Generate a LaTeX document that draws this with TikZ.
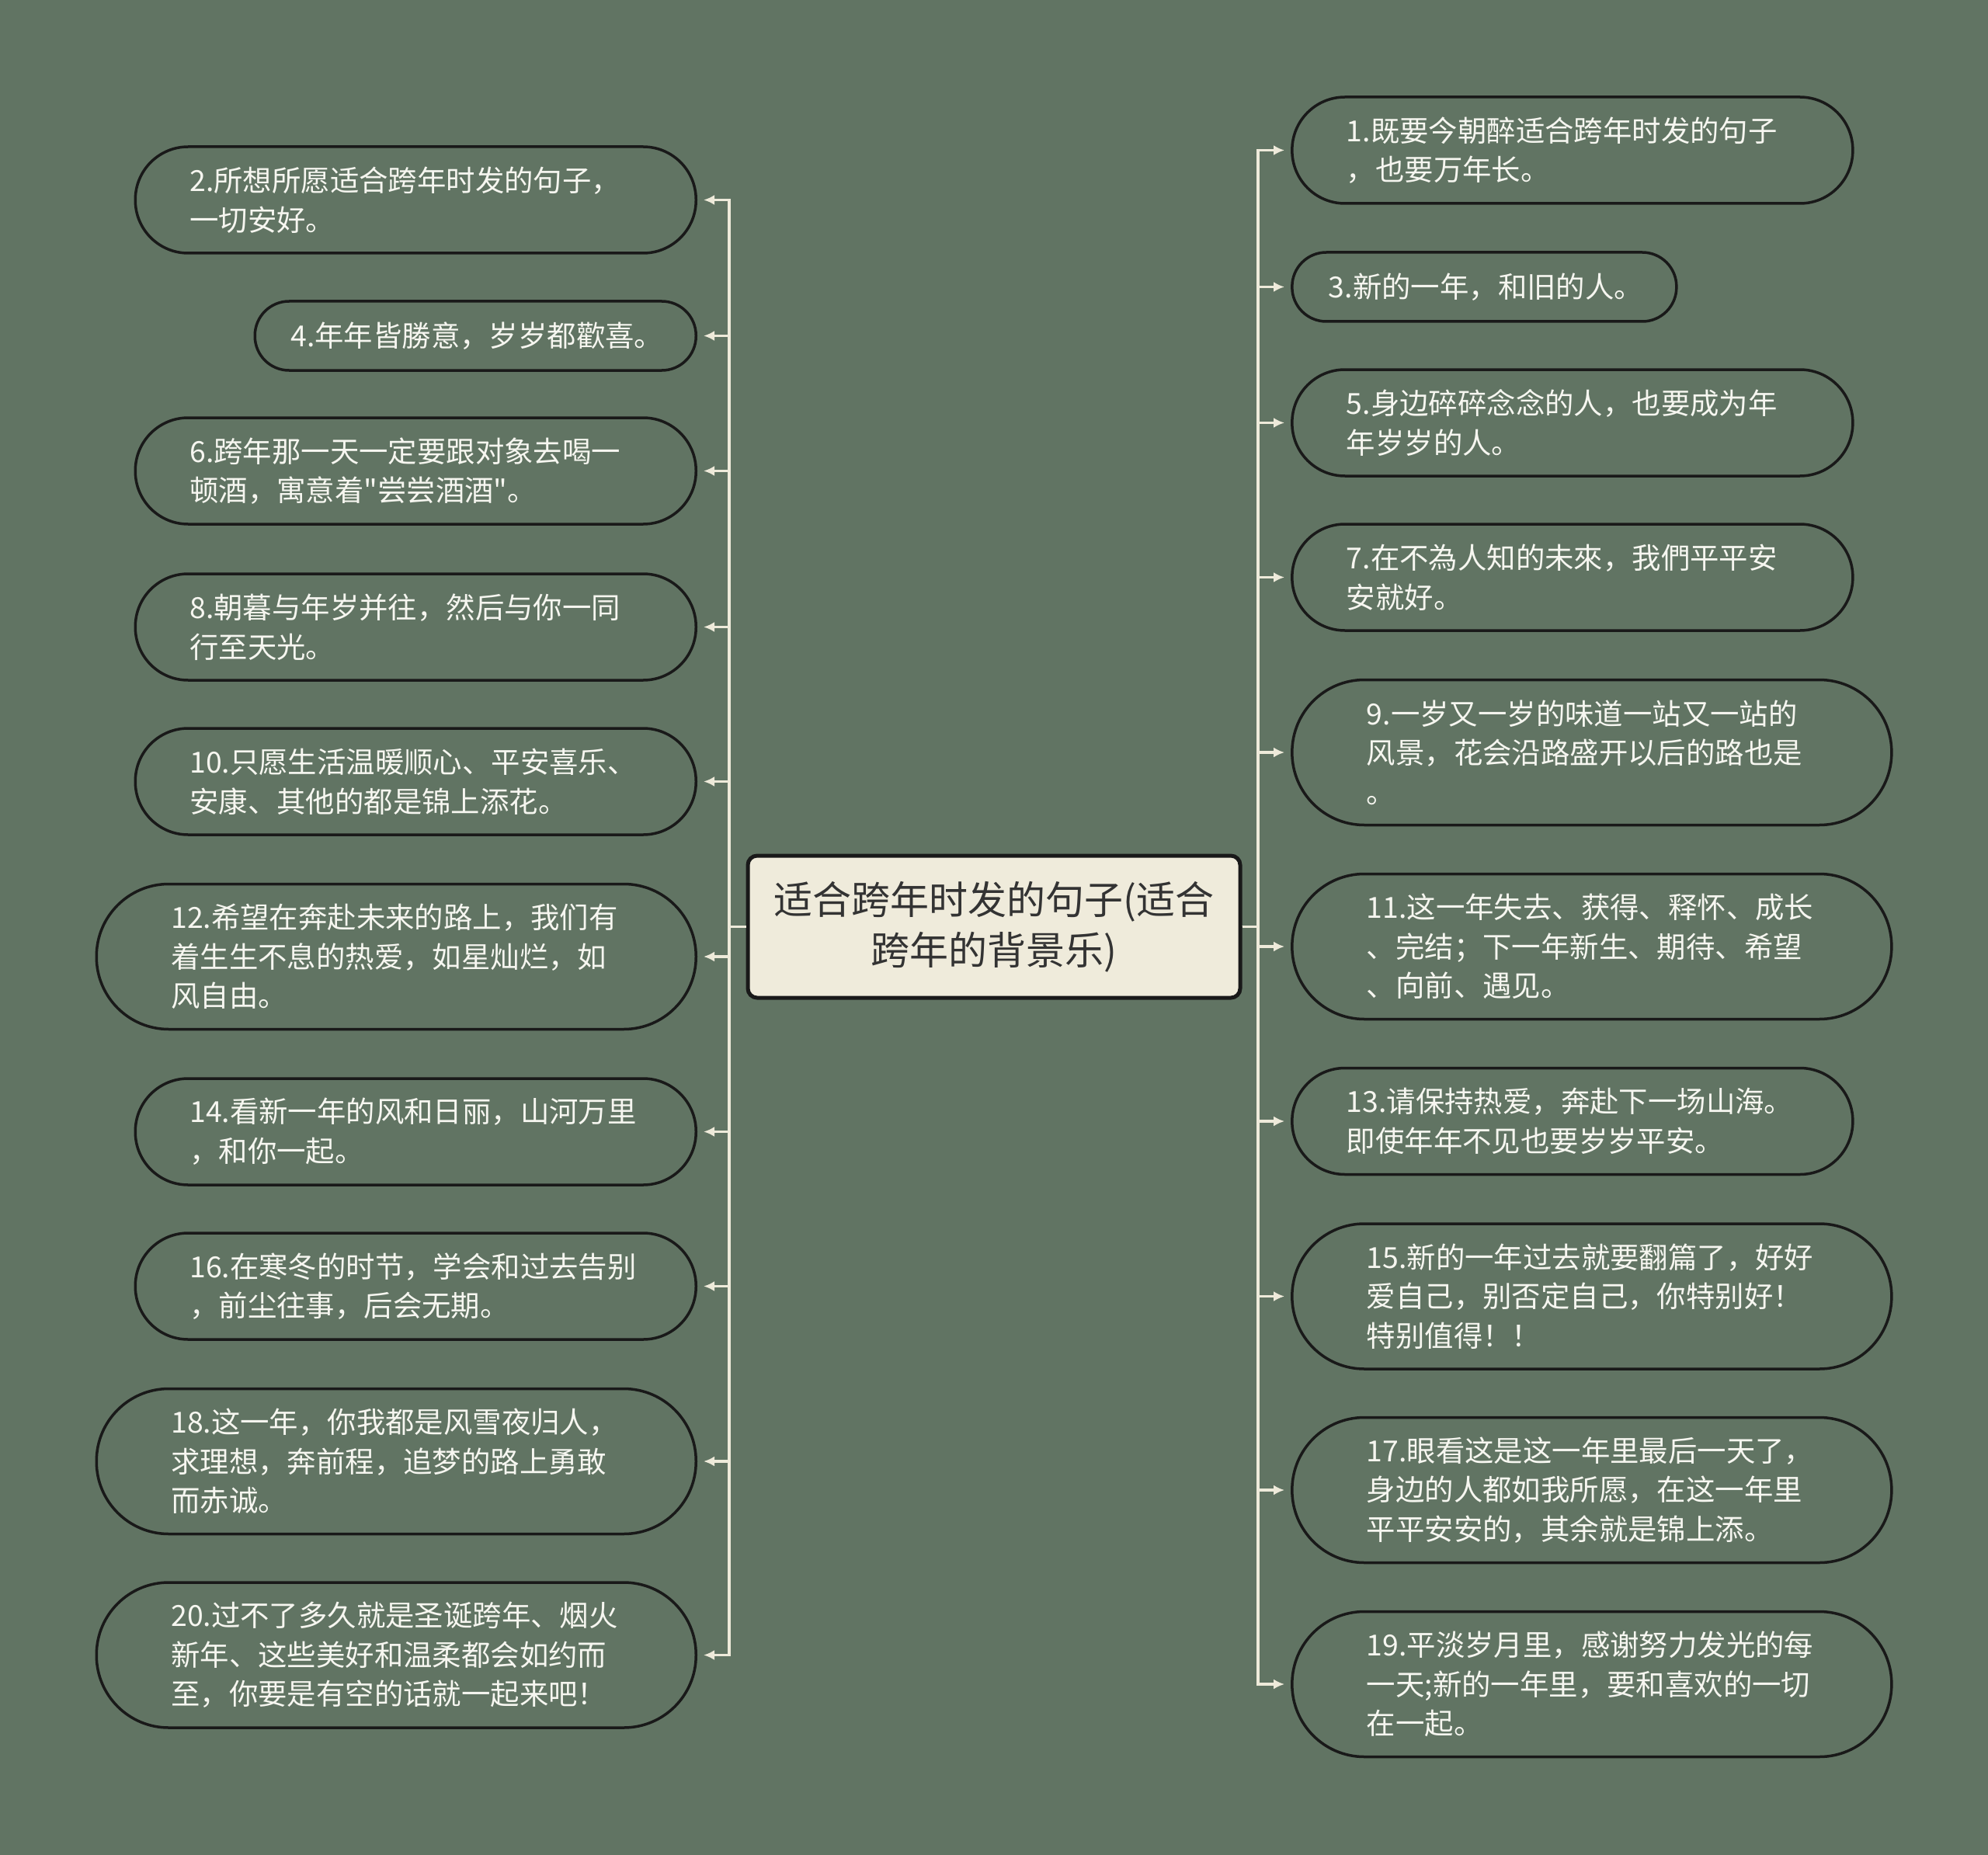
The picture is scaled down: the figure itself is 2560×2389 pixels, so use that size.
\documentclass[tikz,border=0pt]{standalone}
\usepackage{fontspec}
\newfontfamily\cjk{Noto Sans CJK SC}
\usetikzlibrary{arrows.meta}
\definecolor{bgcol}{RGB}{97,116,99}
\definecolor{linecol}{RGB}{238,234,218}
\definecolor{rootfill}{RGB}{239,235,219}
\definecolor{leaftext}{RGB}{246,246,240}
\definecolor{roottext}{RGB}{51,51,51}
\tikzset{
  leaf/.style={draw=black!90, line width=3.5pt, text=leaftext, align=left,
    font=\cjk\fontsize{37.4}{50.6}\selectfont, inner ysep=0pt},
  twoline/.style={minimum height=137pt, rounded corners=68pt},
  threeline/.style={minimum height=187pt, rounded corners=93pt},
  oneline/.style={minimum height=89pt, rounded corners=44pt},
  stdw/.style={text width=582pt, inner xsep=70pt},
  widew/.style={text width=580pt, inner xsep=96pt},
  conn/.style={draw=linecol, line width=3.2pt, -{Latex[length=14pt,width=13pt]}},
  rootbox/.style={draw=black!90, line width=5pt, fill=rootfill, text=roottext,
    align=center, rounded corners=12pt, minimum width=634pt, minimum height=183pt,
    font=\cjk\fontsize{50}{65}\selectfont}
}
\begin{document}
\begin{tikzpicture}[x=1pt,y=-1pt]
\fill[bgcol] (0,0) rectangle (2560,2389);
\useasboundingbox (0,0) rectangle (2560,2389);

\node[rootbox] (root) at (1280,1193.5) {适合跨年时发的句子(适合\\跨年的背景乐)};
\coordinate (ls) at (939,1193.5);
\coordinate (rs) at (1620,1193.5);

% left nodes
\node[leaf,twoline,stdw,anchor=east] (n2) at (898,257.5) {2.所想所愿适合跨年时发的句子，\\一切安好。};
\node[leaf,oneline,text width=476pt,inner xsep=46pt,anchor=east] (n4) at (898,432.5) {4.年年皆勝意，岁岁都歡喜。};
\node[leaf,twoline,stdw,anchor=east] (n6) at (898,606.5) {6.跨年那一天一定要跟对象去喝一\\顿酒，寓意着"尝尝酒酒"。};
\node[leaf,twoline,stdw,anchor=east] (n8) at (898,807.5) {8.朝暮与年岁并往，然后与你一同\\行至天光。};
\node[leaf,twoline,stdw,anchor=east] (n10) at (898,1006.5) {10.只愿生活温暖顺心、平安喜乐、\\安康、其他的都是锦上添花。};
\node[leaf,threeline,widew,anchor=east] (n12) at (898,1232) {12.希望在奔赴未来的路上，我们有\\着生生不息的热爱，如星灿烂，如\\风自由。};
\node[leaf,twoline,stdw,anchor=east] (n14) at (898,1457.5) {14.看新一年的风和日丽，山河万里\\，和你一起。};
\node[leaf,twoline,stdw,anchor=east] (n16) at (898,1656.5) {16.在寒冬的时节，学会和过去告别\\，前尘往事，后会无期。};
\node[leaf,threeline,widew,anchor=east] (n18) at (898,1882) {18.这一年，你我都是风雪夜归人，\\求理想，奔前程，追梦的路上勇敢\\而赤诚。};
\node[leaf,threeline,widew,anchor=east] (n20) at (898,2131.5) {20.过不了多久就是圣诞跨年、烟火\\新年、这些美好和温柔都会如约而\\至，你要是有空的话就一起来吧！};

% right nodes
\node[leaf,twoline,stdw,anchor=west] (n1) at (1662.1,193.5) {1.既要今朝醉适合跨年时发的句子\\，也要万年长。};
\node[leaf,oneline,text width=401pt,inner xsep=47pt,anchor=west] (n3) at (1662.1,369.5) {3.新的一年，和旧的人。};
\node[leaf,twoline,stdw,anchor=west] (n5) at (1662.1,544.5) {5.身边碎碎念念的人，也要成为年\\年岁岁的人。};
\node[leaf,twoline,stdw,anchor=west] (n7) at (1662.1,743.5) {7.在不為人知的未來，我們平平安\\安就好。};
\node[leaf,threeline,widew,anchor=west] (n9) at (1662.1,969) {9.一岁又一岁的味道一站又一站的\\风景，花会沿路盛开以后的路也是\\。};
\node[leaf,threeline,widew,anchor=west] (n11) at (1662.1,1219) {11.这一年失去、获得、释怀、成长\\、完结；下一年新生、期待、希望\\、向前、遇见。};
\node[leaf,twoline,stdw,anchor=west] (n13) at (1662.1,1444) {13.请保持热爱，奔赴下一场山海。\\即使年年不见也要岁岁平安。};
\node[leaf,threeline,widew,anchor=west] (n15) at (1662.1,1669.5) {15.新的一年过去就要翻篇了，好好\\爱自己，别否定自己，你特别好！\\特别值得！！};
\node[leaf,threeline,widew,anchor=west] (n17) at (1662.1,1919) {17.眼看这是这一年里最后一天了，\\身边的人都如我所愿，在这一年里\\平平安安的，其余就是锦上添。};
\node[leaf,threeline,widew,anchor=west] (n19) at (1662.1,2169) {19.平淡岁月里，感谢努力发光的每\\一天;新的一年里，要和喜欢的一切\\在一起。};

% connectors
\foreach \n in {n2,n4,n6,n8,n10,n12,n14,n16,n18,n20}
  \draw[conn] (root.west) -- (ls) |- ([xshift=8pt]\n.east);
\foreach \n in {n1,n3,n5,n7,n9,n11,n13,n15,n17,n19}
  \draw[conn] (root.east) -- (rs) |- ([xshift=-8pt]\n.west);
\end{tikzpicture}
\end{document}
